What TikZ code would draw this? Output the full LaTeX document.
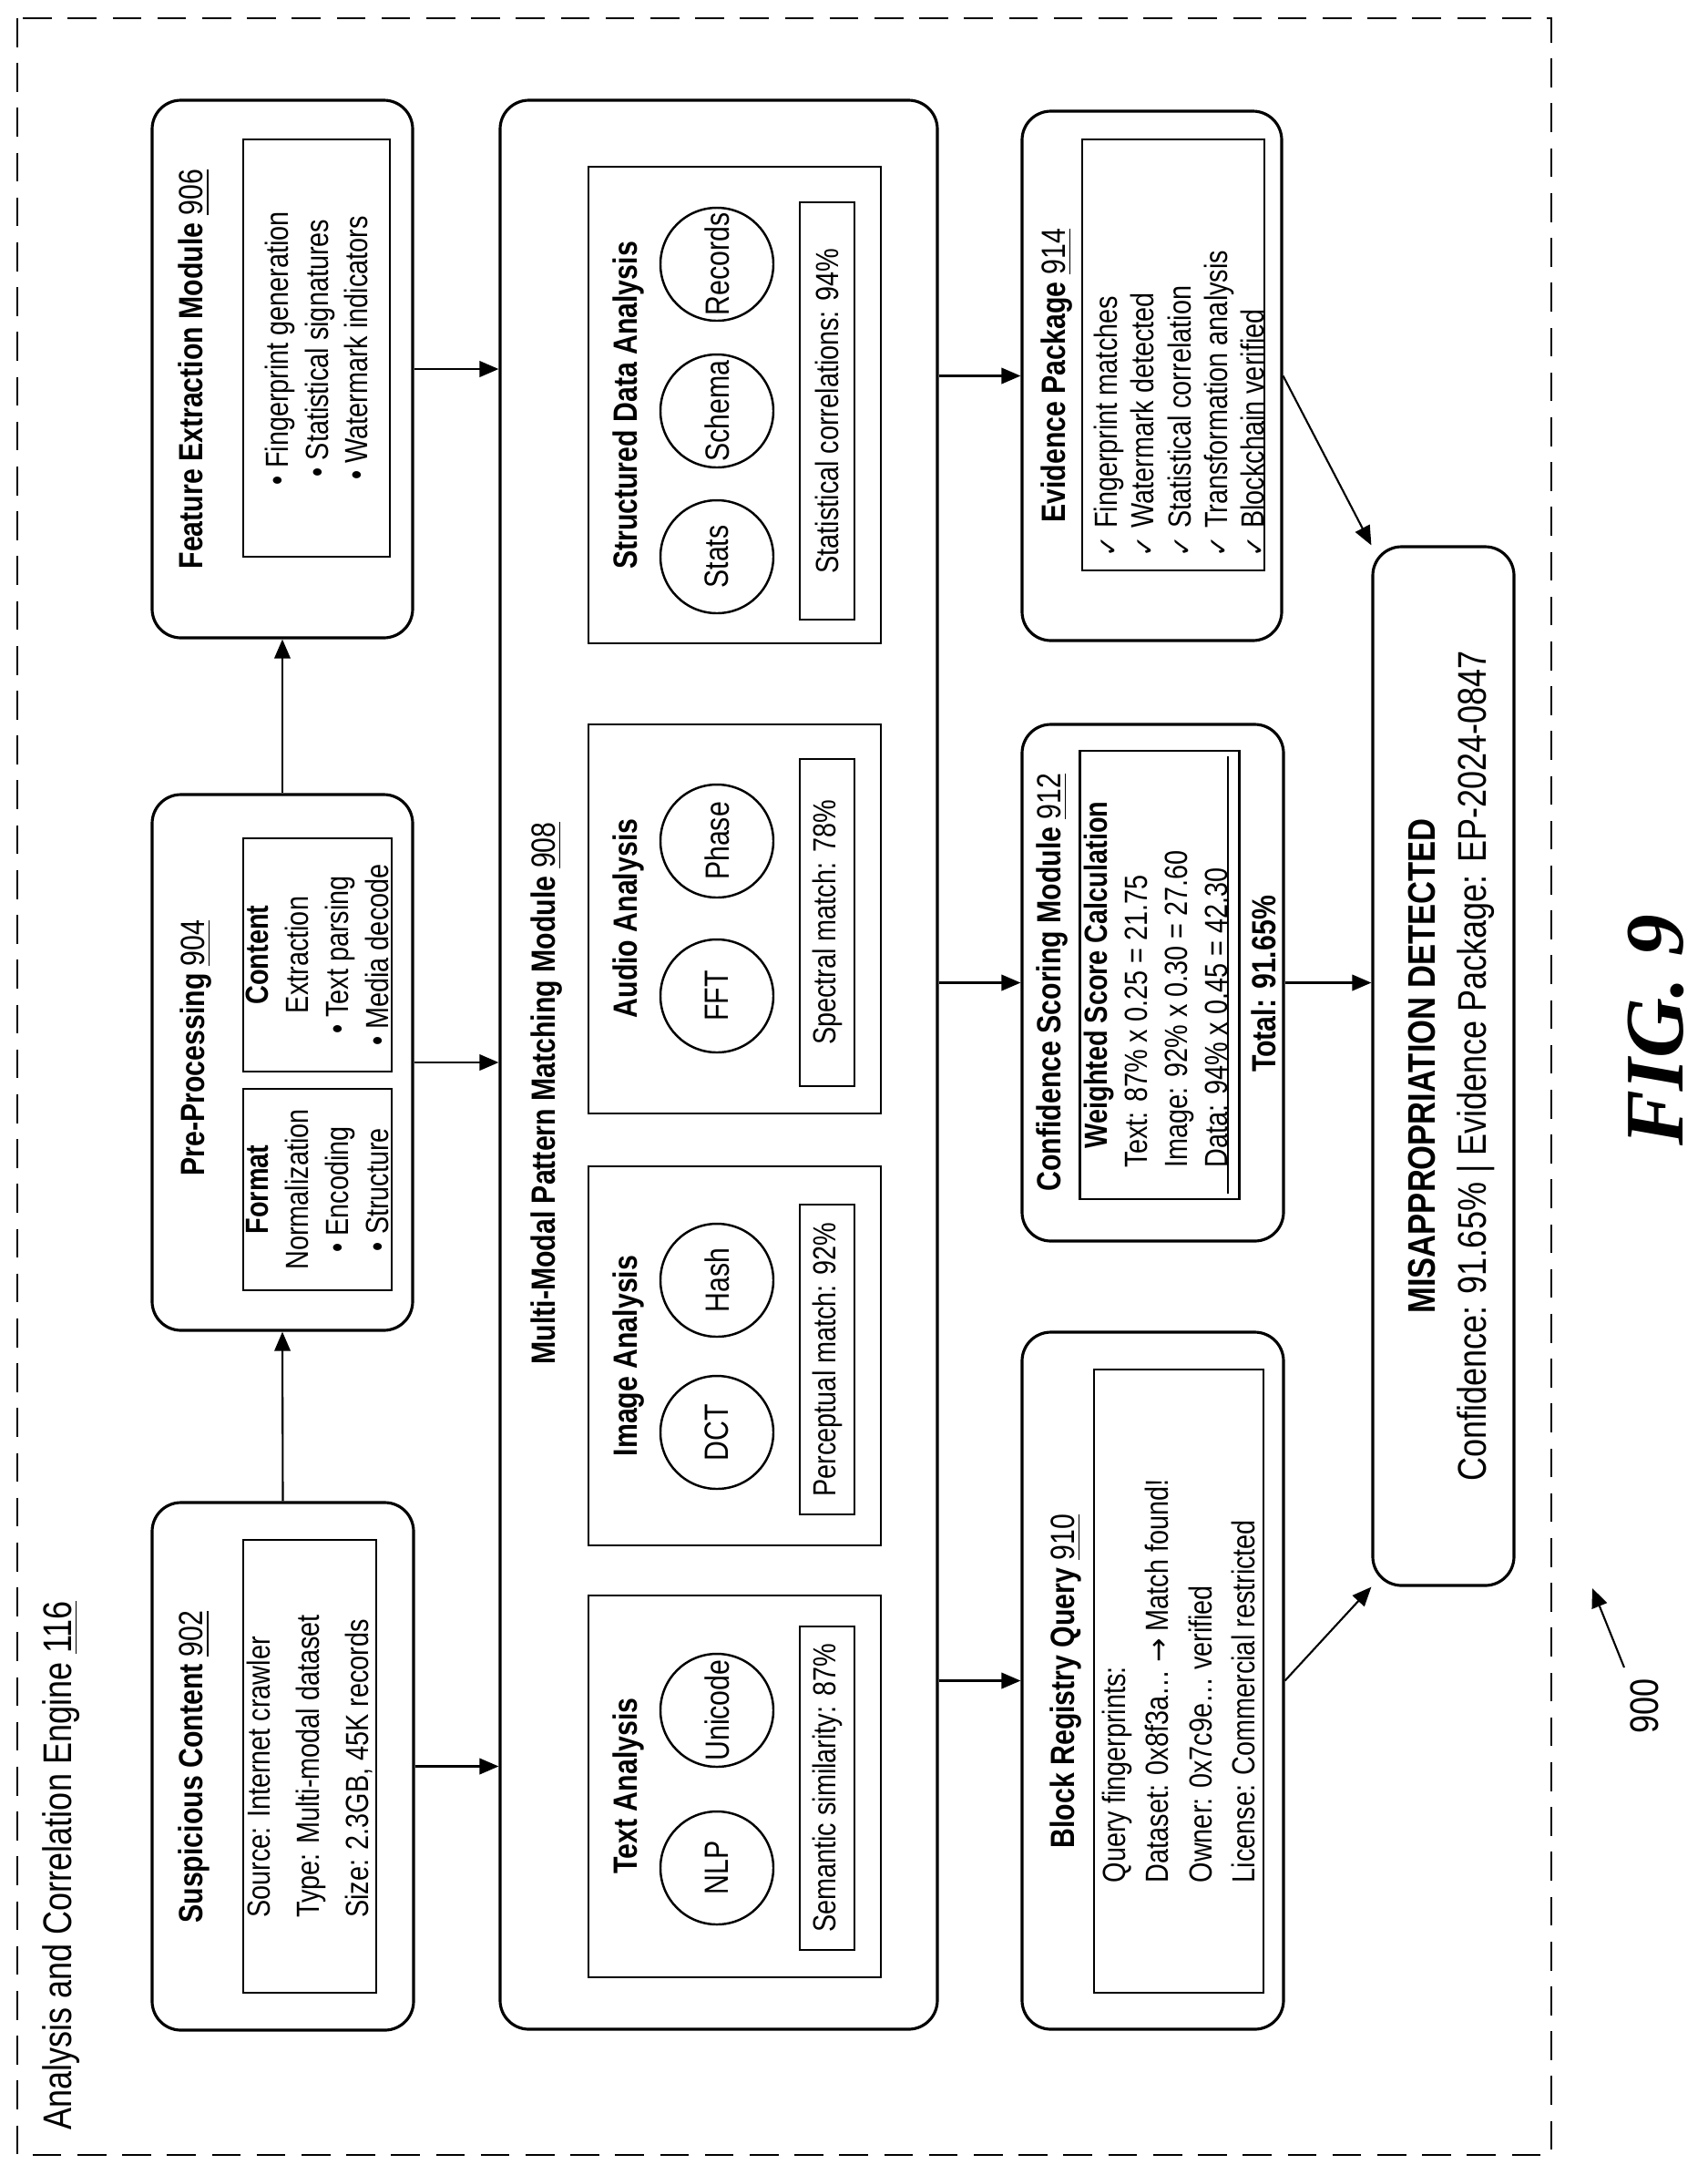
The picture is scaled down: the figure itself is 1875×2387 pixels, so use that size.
\documentclass[tikz,border=0pt]{standalone}
\usepackage{fontspec}
\setmainfont{Liberation Sans}[FakeStretch=0.82]
\newfontfamily\symfont{DejaVu Sans}
\newfontfamily\figfont{Liberation Serif}
\usetikzlibrary{arrows.meta}

% box from page extents: style, name, x1, x2, y1, y2, text
\newcommand{\pbox}[7]{\node[#1, minimum width={(#6-#5)*0.1mm}, minimum height={(#4-#3)*0.1mm}] (#2) at ({(#3+#4)/2},{(#5+#6)/2}) {#7};}
\newcommand{\refnum}[1]{\textmd{\underline{#1}}}

\tikzset{
  rbox/.style={draw, line width=0.9pt, rounded corners=9pt, rotate=90, inner sep=0},
  ibox/.style={draw, line width=0.8pt, rotate=90, inner sep=0, align=center, font=\fontsize{10}{12.5}\selectfont},
  lbl/.style={rotate=90, inner sep=0, align=left, font=\fontsize{10}{12.5}\selectfont},
  ttl/.style={rotate=90, inner sep=0, align=center, font=\fontsize{10.5}{12.5}\selectfont\bfseries},
  circ/.style={draw, circle, line width=0.7pt, rotate=90, minimum size=1.24cm, inner sep=0, font=\fontsize{10.5}{12}\selectfont},
  flow/.style={-{Triangle[length=6pt,width=5pt]}, line width=0.6pt},
}

\begin{document}
\begin{tikzpicture}[x=0.1mm, y=-0.1mm]
    \useasboundingbox (0,0) rectangle (1875,2387);

    % engine frame
    \draw[dashed, line width=0.8pt, dash pattern=on 9pt off 5pt] (19,20) rectangle (1703,2365);
    \node[lbl, anchor=west, font=\fontsize{12.5}{15}\selectfont] (eng) at (67,2338) {Analysis and Correlation Engine \underline{116}};

    % left column
    \pbox{rbox}{sc}{167}{454}{1649}{2228}{}
    \node[ttl] (tsc) at (213,1939) {Suspicious Content \refnum{902}};
    \pbox{ibox, align=left}{scin}{267}{413}{1690}{2187}{Source: Internet crawler\\[3pt]Type: Multi-modal dataset\\[3pt]Size: 2.3GB, 45K records}

    \pbox{rbox}{pre}{167}{453}{872}{1460}{}
    \node[ttl] (tpre) at (215,1150) {Pre-Processing \refnum{904}};
    \pbox{ibox}{fmt}{267}{430}{1195}{1416}{\textbf{Format}\\Normalization\\\textbullet\ Encoding\\\textbullet\ Structure}
    \pbox{ibox}{cnt}{267}{430}{920}{1176}{\textbf{Content}\\Extraction\\\textbullet\ Text parsing\\\textbullet\ Media decode}

    \pbox{rbox}{fe}{167}{453}{110}{700}{}
    \node[ttl] (tfe) at (213,405) {Feature Extraction Module \refnum{906}};
    \pbox{ibox}{fein}{267}{428}{153}{611}{\textbullet\ Fingerprint generation\\\textbullet\ Statistical signatures\\\textbullet\ Watermark indicators}

    % pattern matching
    \pbox{rbox}{mm}{549}{1029}{110}{2227}{}
    \node[ttl] (tmm) at (600,1200) {Multi-Modal Pattern Matching Module \refnum{908}};

    \pbox{ibox}{ta}{646}{967}{1751}{2170}{}
    \node[ttl] (tta) at (690,1960) {Text Analysis};
    \node[circ] (nlp) at (787,2050) {NLP};
    \node[circ] (uni) at (787,1877) {Unicode};
    \pbox{ibox}{tar}{878}{938}{1785}{2140}{Semantic similarity: 87\%}

    \pbox{ibox}{ia}{646}{967}{1280}{1696}{}
    \node[ttl] (tia) at (690,1488) {Image Analysis};
    \node[circ] (dct) at (787,1572) {DCT};
    \node[circ] (hsh) at (787,1405) {Hash};
    \pbox{ibox}{iar}{878}{938}{1322}{1662}{Perceptual match: 92\%}

    \pbox{ibox}{aa}{646}{967}{795}{1222}{}
    \node[ttl] (taa) at (690,1008) {Audio Analysis};
    \node[circ] (fft) at (787,1093) {FFT};
    \node[circ] (phs) at (787,923) {Phase};
    \pbox{ibox}{aar}{878}{938}{833}{1192}{Spectral match: 78\%}

    \pbox{ibox}{sa}{646}{967}{183}{706}{}
    \node[ttl] (tsa) at (690,445) {Structured Data Analysis};
    \node[circ] (sts) at (787,611) {Stats};
    \node[circ] (sch) at (787,451) {Schema};
    \node[circ] (rec) at (787,290) {Records};
    \pbox{ibox}{sar}{878}{938}{222}{680}{Statistical correlations: 94\%}

    % right column
    \pbox{rbox}{rq}{1122}{1409}{1462}{2227}{}
    \node[ttl] (trq) at (1170,1845) {Block Registry Query \refnum{910}};
    \pbox{ibox, align=left}{rqin}{1201}{1387}{1503}{2187}{Query fingerprints:\\[1pt]Dataset: 0x8f3a\ldots\ {\symfont\small →} Match found!\\[1pt]Owner: 0x7c9e\ldots\ verified\\[1pt]License: Commercial restricted}

    \pbox{rbox}{cs}{1122}{1409}{795}{1362}{}
    \node[ttl] (tcs) at (1155,1078) {Confidence Scoring Module \refnum{912}};
    \pbox{ibox}{csin}{1188}{1358}{824}{1316}{\begin{tabular}{@{}l@{}}\multicolumn{1}{c}{\textbf{Weighted Score Calculation}}\\Text: 87\% x 0.25 = 21.75\\Image: 92\% x 0.30 = 27.60\\Data: 94\% x 0.45 = 42.30\end{tabular}}
    \draw[line width=0.8pt] (1348,830) -- (1348,1310);
    \node[ttl] (tot) at (1387,1080) {Total: 91.65\%};

    \pbox{rbox}{ep}{1122}{1407}{122}{703}{}
    \node[ttl] (tep) at (1160,412) {Evidence Package \refnum{914}};
    \pbox{ibox}{epin}{1188}{1388}{153}{626}{}
    \node[lbl, anchor=north west, font=\fontsize{10}{11.5}\selectfont] (epl) at (1200,612) {{\symfont\footnotesize ✓} Fingerprint matches\\{\symfont\footnotesize ✓} Watermark detected\\{\symfont\footnotesize ✓} Statistical correlation\\{\symfont\footnotesize ✓} Transformation analysis\\{\symfont\footnotesize ✓} Blockchain verified};

    % result
    \pbox{rbox}{md}{1507}{1662}{600}{1740}{}
    \node[ttl, font=\fontsize{12}{14}\selectfont\bfseries] (tmd) at (1561,1170) {MISAPPROPRIATION DETECTED};
    \node[lbl, font=\fontsize{12.5}{15}\selectfont] (smd) at (1620,1170) {Confidence: 91.65\% | Evidence Package: EP-2024-0847};

    % connectors
    \draw[flow] (sc.east) -- (pre.west);
    \draw[flow] (pre.east) -- (fe.west);
    \draw[flow] (sc.south) -- (sc.south -| mm.north);
    \draw[flow] (pre.south) -- (pre.south -| mm.north);
    \draw[flow] (fe.south) -- (fe.south -| mm.north);
    \draw[flow] (mm.south |- rq) -- (rq.north);
    \draw[flow] (mm.south |- cs) -- (cs.north);
    \draw[flow] (mm.south |- ep) -- (ep.north);
    \draw[flow] (cs.south) -- (cs.south -| md.north);
    \draw[flow] (rq.south) -- (md.north west);
    \draw[flow] (ep.south) -- (md.north east);

    % figure labels
    \node[rotate=90, font=\fontsize{12.5}{15}\selectfont] (ref) at (1805,1872) {900};
    \coordinate (reftip) at (1748,1743);
    \draw[flow] (1783,1830) -- (reftip);
    \node[rotate=90, font=\figfont\bfseries\itshape\fontsize{26}{30}\selectfont] (fig) at (1818,1131) {FIG. 9};
\end{tikzpicture}
\end{document}
